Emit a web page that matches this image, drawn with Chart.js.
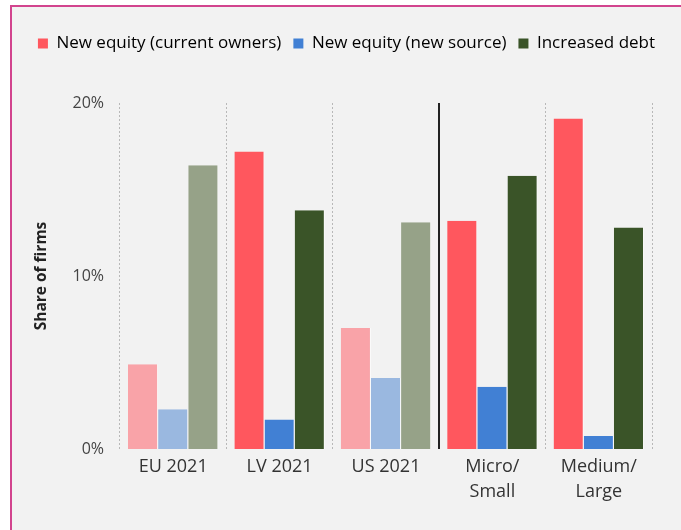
<!DOCTYPE html>
<html>
<head>
<meta charset="utf-8">
<script src="https://cdn.jsdelivr.net/npm/chart.js@4"></script>
<style>
  html, body { margin: 0; padding: 0; background: #fff; }
  .frame {
    position: absolute; left: 10px; top: 5px; width: 671px; height: 525px;
    border-left: 2px solid #d2448e; border-top: 2px solid #d2448e;
    background: #f2f2f2; box-sizing: border-box;
  }
  canvas { display: block; }
</style>
</head>
<body>
<div class="frame"><canvas id="chart" width="669" height="523"></canvas></div>
<script>
const categories = [['EU 2021'], ['LV 2021'], ['US 2021'], ['Micro/', 'Small'], ['Medium/', 'Large']]
const seriesNames = ['New equity (current owners)', 'New equity (new source)', 'Increased debt']
const equityOwners = [4.9, 17.2, 7.0, 13.2, 19.1]
const equityNew = [2.3, 1.7, 4.1, 3.6, 0.75]
const increasedDebt = [16.4, 13.8, 13.1, 15.8, 12.8]
const yTicks = [0, 10, 20]

const strong = ['#ff575e', '#4180d4', '#3a5428']
const pale = ['#f9a3a8', '#9ab8e0', '#96a288']
const paleCats = [0, 2] // EU and US drawn lighter

const colorsFor = i => categories.map((c, j) => paleCats.includes(j) ? pale[i] : strong[i])

// solid separator between the country and firm-size groups
const separator = {
  id: 'separator',
  afterDatasetsDraw(chart) {
    const x = chart.scales.x
    const area = chart.chartArea
    const px = Math.round((x.getPixelForValue(2) + x.getPixelForValue(3)) / 2)
    const ctx = chart.ctx
    ctx.save()
    ctx.strokeStyle = '#222'
    ctx.lineWidth = 2
    ctx.beginPath()
    ctx.moveTo(px, area.top)
    ctx.lineTo(px, area.bottom)
    ctx.stroke()
    ctx.restore()
  }
}

// more room under the legend
const legendGap = {
  id: 'legendGap',
  beforeInit(chart) {
    const fit = chart.legend.fit
    chart.legend.fit = function () {
      fit.bind(chart.legend)()
      this.height = 80
    }
  }
}

const font = "'Open Sans', 'Noto Sans', sans-serif"
Chart.defaults.font.family = font
Chart.defaults.color = '#333'

new Chart(document.getElementById('chart'), {
  type: 'bar',
  data: {
    labels: categories,
    datasets: [equityOwners, equityNew, increasedDebt].map((d, i) => ({
      label: seriesNames[i],
      data: d,
      backgroundColor: colorsFor(i),
      borderColor: 'rgba(255,255,255,0.7)',
      borderWidth: { top: 0, left: 0, bottom: 0, right: 1 },
      barPercentage: 1,
      categoryPercentage: 0.85,
    }))
  },
  options: {
    responsive: false,
    animation: false,
    layout: { padding: { left: 0, right: 0, top: 16, bottom: 0 } },
    plugins: {
      tooltip: { enabled: false },
      legend: {
        labels: {
          boxWidth: 10,
          boxHeight: 10,
          padding: 12,
          font: { size: 17 },
          color: '#333',
          generateLabels: chart => seriesNames.map((name, i) => ({
            text: name,
            fillStyle: strong[i],
            strokeStyle: strong[i],
            lineWidth: 0,
            datasetIndex: i,
          }))
        }
      }
    },
    scales: {
      x: {
        offset: true,
        afterFit: axis => { axis.height = 81 },
        grid: {
          offset: true,
          drawTicks: false,
          color: ctx => ctx.index === 3 ? 'rgba(0,0,0,0)' : '#b8b8b8',
          lineWidth: 1,
        },
        border: { display: false, dash: [2, 2] },
        ticks: { font: { size: 18, lineHeight: 1.4 }, color: '#333', padding: 5 }
      },
      y: {
        min: 0,
        max: 20,
        afterFit: axis => { axis.width = 108 },
        grid: { display: false },
        border: { display: false },
        afterBuildTicks: axis => { axis.ticks = yTicks.map(v => ({ value: v })) },
        ticks: { font: { size: 16 }, color: '#444', padding: 8, callback: v => v + '%' },
        title: { display: true, text: 'Share of firms', font: { size: 15.5, weight: 'bold' }, color: '#222', padding: { top: 20, bottom: 0 } }
      },
      // empty right axis, only keeps a margin on the right of the plot
      yRight: {
        position: 'right',
        min: 0,
        max: 20,
        afterFit: axis => { axis.width = 29 },
        grid: { display: false },
        border: { display: false },
        ticks: { display: false }
      }
    }
  },
  plugins: [separator, legendGap]
})
</script>
</body>
</html>
